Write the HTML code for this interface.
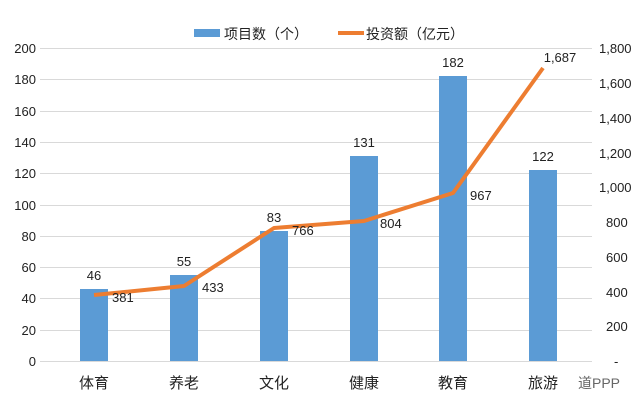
<!DOCTYPE html><html><head><meta charset="utf-8"><style>body{margin:0;background:#fff}svg{display:block}</style></head><body>
<svg width="644" height="411" xmlns="http://www.w3.org/2000/svg" font-family="Liberation Sans, Noto Sans CJK SC, sans-serif">
<g stroke="#d9d9d9" stroke-width="1">
<line x1="40" x2="592" y1="48.5" y2="48.5"/><line x1="40" x2="592" y1="79.5" y2="79.5"/><line x1="40" x2="592" y1="111.5" y2="111.5"/><line x1="40" x2="592" y1="142.5" y2="142.5"/><line x1="40" x2="592" y1="173.5" y2="173.5"/><line x1="40" x2="592" y1="205.5" y2="205.5"/><line x1="40" x2="592" y1="236.5" y2="236.5"/><line x1="40" x2="592" y1="267.5" y2="267.5"/><line x1="40" x2="592" y1="298.5" y2="298.5"/><line x1="40" x2="592" y1="330.5" y2="330.5"/><line x1="40" x2="592" y1="361.5" y2="361.5"/>
</g>
<g fill="#5b9bd5">
<rect x="80" y="289" width="28" height="72"/><rect x="170" y="275" width="28" height="86"/><rect x="260" y="231" width="28" height="130"/><rect x="350" y="156" width="28" height="205"/><rect x="439" y="76" width="28" height="285"/><rect x="529" y="170" width="28" height="191"/>
</g>
<polyline points="94,295 184,286 274,228 364,221 453,193 543,68" fill="none" stroke="#ed7d31" stroke-width="4" stroke-linejoin="round"/>
<g font-size="13" fill="#222" text-anchor="end">
<text x="36" y="53">200</text><text x="36" y="84">180</text><text x="36" y="116">160</text><text x="36" y="147">140</text><text x="36" y="178">120</text><text x="36" y="210">100</text><text x="36" y="241">80</text><text x="36" y="272">60</text><text x="36" y="303">40</text><text x="36" y="335">20</text><text x="36" y="366">0</text>
</g>
<g font-size="13" fill="#222" text-anchor="start">
<text x="599" y="53">1,800</text><text x="599" y="88">1,600</text><text x="599" y="123">1,400</text><text x="599" y="158">1,200</text><text x="599" y="192">1,000</text><text x="606" y="227">800</text><text x="606" y="262">600</text><text x="606" y="297">400</text><text x="606" y="331">200</text><text x="614" y="366">-</text>
</g>
<g font-size="13" fill="#222" text-anchor="middle">
<text x="94" y="280">46</text><text x="184" y="266">55</text><text x="274" y="222">83</text><text x="364" y="147">131</text><text x="453" y="67">182</text><text x="543" y="161">122</text>
<text x="560" y="62">1,687</text>
</g>
<g font-size="13" fill="#222">
<text x="112" y="302">381</text><text x="202" y="292">433</text><text x="292" y="235">766</text><text x="380" y="228">804</text><text x="470" y="200">967</text>
</g>
<g font-size="15" fill="#222" text-anchor="middle">
<text x="94" y="388">体育</text><text x="184" y="388">养老</text><text x="274" y="388">文化</text><text x="364" y="388">健康</text><text x="453" y="388">教育</text><text x="543" y="388">旅游</text>
</g>
<text x="578" y="388" font-size="14" fill="#666">道PPP</text>
<rect x="194" y="29" width="26" height="8" fill="#5b9bd5"/>
<text x="224" y="39" font-size="14" fill="#222">项目数（个）</text>
<line x1="338" y1="33" x2="364" y2="33" stroke="#ed7d31" stroke-width="4"/>
<text x="366" y="39" font-size="14" fill="#222">投资额（亿元）</text>
</svg></body></html>
